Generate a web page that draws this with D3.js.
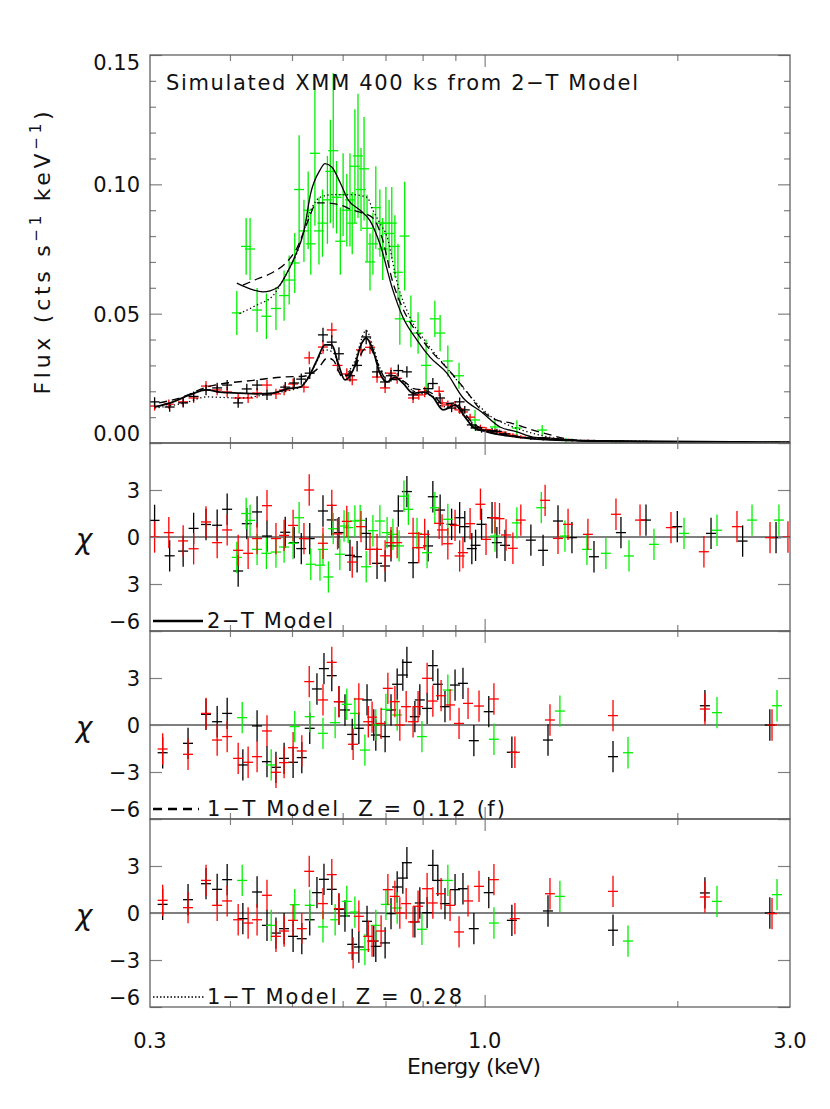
<!DOCTYPE html>
<meta charset="utf-8">
<title>Simulated XMM 400 ks from 2-T Model</title>
<style>
  body { margin: 0; background: #fff; }
  text { font-family: "DejaVu Sans", sans-serif; fill: #111; }
</style>
<body>
<script src="https://d3js.org/d3.v7.min.js"></script>
<script>
// ---------- top panel data (flux, cts/s/keV) ----------
var topBlackE = [0.305,0.322,0.338,0.351,0.367,0.382,0.396,0.412,0.425,0.441,0.457,0.488,0.504,0.517,0.533,0.559,0.577,0.592,0.616,0.632,0.653,0.679,0.699,0.714,0.733,0.756,0.773,0.816,0.830,0.852,0.888,0.914,0.931,0.955,0.968,0.989,1.027,1.045,1.076,1.181,1.234,1.302,1.369,1.482,1.633,1.787,2.0,2.258,2.53,2.853];
var topBlackF = [0.0159,0.0139,0.0155,0.018,0.0205,0.0213,0.0224,0.0155,0.0209,0.0224,0.0186,0.0216,0.0232,0.0247,0.027,0.0418,0.039,0.0345,0.026,0.03,0.041,0.0275,0.0236,0.026,0.028,0.0275,0.0186,0.021,0.023,0.0174,0.0135,0.0159,0.0128,0.007,0.0058,0.005,0.0048,0.0045,0.0035,0.0019,0.0016,0.0014,0.0011,0.0008,0.0006,0.0005,0.0004,0.0003,0.0003,0.0002];
var topBlackErr = [0.0018,0.0018,0.0018,0.0019,0.002,0.002,0.002,0.0019,0.002,0.002,0.002,0.002,0.0021,0.0022,0.0023,0.0028,0.0027,0.0025,0.0022,0.0024,0.0028,0.0022,0.0021,0.0022,0.0023,0.0022,0.0019,0.002,0.0021,0.0018,0.0016,0.0017,0.0015,0.0012,0.0011,0.001,0.001,0.001,0.0009,0.0007,0.0006,0.0006,0.0005,0.0005,0.0004,0.0004,0.0004,0.0004,0.0004,0.0004];

var topRedE = [0.305,0.321,0.338,0.351,0.367,0.382,0.396,0.412,0.427,0.441,0.457,0.472,0.486,0.502,0.522,0.532,0.559,0.577,0.589,0.609,0.621,0.641,0.662,0.679,0.699,0.714,0.730,0.773,0.789,0.806,0.849,0.858,0.876,0.899,0.914,0.925,0.949,0.985,1.005,1.038,1.055,1.08,1.107,1.139,1.243,1.302,1.350,1.450,1.604,1.749,1.955,2.201,2.479,2.792,2.978];
var topRedF = [0.0143,0.0150,0.0159,0.0174,0.022,0.0205,0.0197,0.0174,0.0174,0.0193,0.0224,0.019,0.0205,0.0228,0.0216,0.0329,0.0371,0.0437,0.030,0.0267,0.0244,0.036,0.037,0.0255,0.0213,0.027,0.025,0.0174,0.0186,0.0197,0.020,0.0155,0.0147,0.0145,0.0128,0.012,0.01,0.006,0.0052,0.0045,0.0042,0.0035,0.003,0.0023,0.0018,0.0014,0.0012,0.0009,0.0006,0.0005,0.0004,0.0003,0.0003,0.0002,0.0002];
var topRedErr = [0.0018,0.0018,0.0018,0.0019,0.002,0.002,0.002,0.0019,0.0019,0.002,0.002,0.002,0.002,0.0021,0.0021,0.0025,0.0026,0.0028,0.0023,0.0022,0.0021,0.0026,0.0026,0.0022,0.002,0.0022,0.0021,0.0019,0.0019,0.002,0.0019,0.0017,0.0017,0.0017,0.0016,0.0015,0.0013,0.0011,0.001,0.001,0.001,0.0009,0.0008,0.0007,0.0006,0.0006,0.0005,0.0005,0.0004,0.0004,0.0004,0.0004,0.0004,0.0004,0.0004];

var topGreenE = [0.410,0.424,0.430,0.441,0.456,0.472,0.486,0.495,0.505,0.513,0.522,0.530,0.535,0.543,0.551,0.558,0.568,0.574,0.580,0.587,0.595,0.601,0.609,0.616,0.621,0.627,0.634,0.641,0.648,0.655,0.662,0.669,0.676,0.686,0.693,0.701,0.709,0.716,0.724,0.732,0.737,0.750,0.767,0.787,0.810,0.836,0.852,0.876,0.912,0.966,1.038,1.123,1.23,1.34,1.6,2.0,2.4,2.85];
var topGreenF = [0.0503,0.076,0.075,0.0514,0.049,0.052,0.057,0.063,0.0696,0.098,0.082,0.090,0.077,0.112,0.082,0.085,0.094,0.105,0.113,0.095,0.078,0.096,0.090,0.094,0.085,0.107,0.111,0.098,0.106,0.083,0.070,0.077,0.091,0.085,0.075,0.085,0.081,0.085,0.076,0.066,0.048,0.080,0.047,0.0425,0.030,0.048,0.0425,0.0317,0.026,0.0089,0.0062,0.0058,0.005,0.001,0.0004,0.0003,0.0003,0.0003];
var topGreenErr = [0.0085,0.011,0.012,0.0085,0.0088,0.0083,0.0097,0.0095,0.0116,0.021,0.012,0.015,0.012,0.028,0.013,0.013,0.017,0.02,0.03,0.014,0.013,0.016,0.014,0.018,0.012,0.022,0.024,0.016,0.02,0.013,0.011,0.012,0.016,0.013,0.012,0.014,0.013,0.014,0.012,0.011,0.01,0.021,0.01,0.008,0.01,0.007,0.007,0.006,0.005,0.004,0.003,0.003,0.002,0.001,0.0005,0.0005,0.0005,0.0005];

// ---------- model curves (top panel) ----------
var modGreenSolidE = [0.410,0.430,0.4505,0.474,0.491,0.505,0.522,0.535,0.553,0.563,0.577,0.595,0.612,0.639,0.662,0.686,0.719,0.745,0.784,0.8215,0.873,0.925,0.989,1.057,1.123,1.19,1.265,1.425,1.813,3.0];
var modGreenSolidF = [0.0618,0.0596,0.0584,0.060,0.0657,0.072,0.082,0.0967,0.1055,0.108,0.1067,0.1005,0.094,0.090,0.086,0.077,0.059,0.0487,0.0398,0.0332,0.027,0.0175,0.012,0.0062,0.0043,0.0023,0.0019,0.0008,0.0004,0.0002];
var modGreenDashE = [0.419,0.441,0.467,0.491,0.509,0.528,0.547,0.568,0.595,0.623,0.643,0.669,0.690,0.719,0.745,0.787,0.822,0.873,0.93,0.985,1.04,1.10,1.19,1.25,1.4,1.8,3.0];
var modGreenDashF = [0.061,0.0634,0.066,0.070,0.0754,0.085,0.0928,0.0928,0.092,0.090,0.089,0.087,0.080,0.062,0.052,0.042,0.036,0.029,0.021,0.013,0.009,0.0077,0.005,0.0035,0.001,0.0005,0.0002];
var modGreenDotE = [0.414,0.441,0.467,0.491,0.509,0.535,0.553,0.579,0.623,0.655,0.669,0.686,0.704,0.73,0.764,0.81,0.88,0.95,1.02,1.1,1.2,1.4,3.0];
var modGreenDotF = [0.050,0.0534,0.057,0.0657,0.0735,0.090,0.095,0.096,0.096,0.095,0.090,0.085,0.0797,0.062,0.0487,0.039,0.028,0.018,0.0105,0.0065,0.0035,0.001,0.0002];

var modLowSolidE = [0.305,0.326,0.346,0.368,0.386,0.415,0.441,0.467,0.491,0.515,0.530,0.547,0.563,0.577,0.590,0.605,0.623,0.643,0.653,0.669,0.686,0.704,0.724,0.745,0.773,0.801,0.830,0.861,0.899,0.932,0.959,1.009,1.123,1.265,1.514,3.0];
var modLowSolidF = [0.0139,0.0159,0.0186,0.0205,0.0197,0.0193,0.019,0.0193,0.0209,0.0216,0.0251,0.032,0.0379,0.0379,0.031,0.0244,0.0282,0.0387,0.0406,0.036,0.027,0.0236,0.0255,0.0232,0.0193,0.0197,0.0178,0.0128,0.0147,0.01,0.0062,0.0043,0.0023,0.0012,0.0008,0.0002];
var modLowDashE = [0.31,0.335,0.368,0.441,0.484,0.522,0.55,0.568,0.58,0.60,0.625,0.65,0.66,0.68,0.70,0.725,0.745,0.775,0.80,0.83,0.86,0.90,0.93,0.96,1.01,1.12,1.27,1.5,3.0];
var modLowDashF = [0.0155,0.0175,0.0216,0.0244,0.0255,0.0258,0.029,0.0329,0.032,0.0255,0.029,0.0365,0.037,0.031,0.025,0.0245,0.024,0.021,0.0205,0.019,0.015,0.0155,0.0115,0.0075,0.005,0.0026,0.0014,0.0008,0.0002];
var modLowDotE = [0.305,0.34,0.368,0.415,0.467,0.515,0.54,0.563,0.58,0.60,0.625,0.653,0.67,0.69,0.72,0.745,0.775,0.83,0.86,0.90,0.93,0.96,1.01,1.12,1.27,1.5,3.0];
var modLowDotF = [0.0135,0.0155,0.0178,0.0174,0.0193,0.0216,0.029,0.036,0.035,0.026,0.031,0.0435,0.037,0.028,0.026,0.024,0.02,0.018,0.014,0.0145,0.0105,0.0068,0.0045,0.0024,0.0013,0.0008,0.0002];

// ---------- residuals, 2-T model (same bins as top panel) ----------
var res2BlackChi = [1.06,-1.2,-0.9,0.55,0.8,0.75,1.77,-2.17,0.85,1.6,0.06,0.3,-0.36,-0.74,-0.1,1.66,1.09,0.28,-1.17,-1.26,0.23,-1.68,-1.85,-0.57,1.66,2.9,-1.64,-0.57,2.57,1.72,0.81,1.23,0.66,-0.74,-0.53,0.81,1.23,-0.36,-0.53,-0.2,-0.85,1.02,-0.04,-1.26,0.28,1.08,0.66,0.23,-0.26,-0.04];
var res2RedChi = [0,0.28,-0.25,-0.75,0.96,-0.36,0.45,-0.85,-1.04,-0.1,2.0,-0.1,0.1,0.74,-0.1,3.0,-0.4,2.02,0.2,1.0,-1.6,0.66,-0.79,-0.79,-1.2,-0.36,-0.36,0.23,-0.68,0.17,0.87,0.45,-0.43,0.74,-1.21,-1.0,0.85,2.09,-0.15,1.23,1.17,0.13,-0.72,1.08,2.34,-0.09,0.81,0.17,1.45,1.08,0.6,-0.94,0.66,-0.04,0];
var res2GreenE = [0.410,0.424,0.430,0.441,0.456,0.472,0.486,0.502,0.513,0.535,0.553,0.559,0.570,0.580,0.594,0.603,0.612,0.627,0.639,0.653,0.669,0.686,0.704,0.719,0.735,0.748,0.760,0.784,0.813,0.836,0.876,1.038,1.123,1.226,1.335,1.445,1.547,1.681,1.839,2.049,2.307,2.617,2.883];
var res2GreenChi = [-1.3,1.5,1.06,-0.79,-1.04,-0.96,-0.64,-0.4,1.23,-1.74,-1.8,-0.79,-2.55,0.53,-1.1,0.7,0.6,1.02,1.06,-1.9,0.4,1.02,0.28,0.17,-0.57,2.6,1.77,0.23,-1.0,1.87,1.13,0.06,0.9,1.87,0.06,-0.79,-1.04,-1.21,-0.47,0.23,0.43,1.08,1.08];

// ---------- residuals, 1-T models (regrouped bins) ----------
var resBlackE = [0.314,0.344,0.367,0.382,0.396,0.419,0.441,0.457,0.472,0.486,0.502,0.518,0.533,0.547,0.561,0.577,0.592,0.605,0.621,0.636,0.655,0.671,0.676,0.699,0.714,0.730,0.745,0.756,0.778,0.792,0.813,0.830,0.845,0.867,0.899,0.925,0.962,1.015,1.103,1.256,1.587,2.209,2.79];
var res3BlackChi = [-1.77,-1.17,0.68,0.21,0.74,-2.55,-0.06,-2.34,-2.7,-2.13,-2.38,-2.08,-0.21,2.3,3.6,3.15,1.49,0.96,-0.6,-0.21,1.6,0.0,-0.64,-0.74,0.96,2.6,3.19,4.0,0.53,1.6,1.06,3.79,2.6,1.17,2.55,2.66,-1.0,0.85,-1.74,-0.96,-2.02,1.23,0];
var res4BlackChi = [0.55,0.85,1.87,1.51,2.13,-0.36,1.34,-0.79,-1.28,-1.0,-1.49,-1.64,-0.43,1.3,2.15,1.51,0.23,-0.19,-2.0,-2.17,-0.53,-1.79,-2.13,-1.91,-0.04,1.66,2.23,3.21,-0.57,0.64,0.02,3.04,2.08,0.6,1.49,1.55,-1.0,1.3,-0.47,0.13,-1.1,1.28,0];
var resRedE = [0.314,0.344,0.367,0.382,0.396,0.412,0.427,0.441,0.457,0.472,0.486,0.502,0.518,0.532,0.559,0.577,0.592,0.623,0.636,0.658,0.667,0.689,0.706,0.724,0.737,0.754,0.773,0.787,0.813,0.830,0.855,0.883,0.912,0.942,0.980,1.034,1.115,1.265,1.587,2.209,2.812];
var res3RedChi = [-1.53,-1.87,0.74,-0.96,-0.74,-2.13,-2.38,-2.02,-0.38,-3.02,-2.4,-1.45,-1.66,2.77,1.6,4.0,1.49,-1.23,1.66,0.21,0.5,0.1,2.34,1.49,0.0,1.17,0.21,1.17,2.98,1.53,1.87,1.28,0.1,1.38,1.21,1.66,-1.74,0.32,0.6,1.02,0];
var res4RedChi = [0.81,0.34,2.08,0.49,0.77,-0.43,-0.64,-0.43,1.13,-1.49,-1.15,-0.47,-1.0,2.66,0.6,2.45,0.28,-2.55,-0.21,-1.49,-1.79,-1.15,1.49,1.06,0.0,0.6,-0.57,0.43,1.55,0.64,1.23,0.49,-1.21,0.77,1.7,2.13,-0.36,1.23,1.38,1.02,-0.04];
var resGreenE = [0.418,0.464,0.505,0.533,0.559,0.584,0.609,0.627,0.650,0.676,0.701,0.730,0.798,0.876,1.034,1.311,1.675,2.307,2.863];
var res3GreenChi = [0.47,-2.55,-0.1,0.53,-0.53,0.15,1.32,0.74,-1.6,0.0,1.0,0.64,-0.74,2.23,-0.91,0.89,-1.77,0.79,1.23];
var res4GreenChi = [2.08,-0.79,0.53,0.49,-0.89,-0.43,0.74,0.06,-2.34,-0.79,0.55,0.32,-1.04,2.08,-0.64,1.06,-1.79,0.74,1.17];

// ---------- labels ----------
var titleText = "Simulated XMM 400 ks from 2\u2212T Model";
var fluxTicks = [0, 0.05, 0.10, 0.15];
var fluxLabels = ["0.00", "0.05", "0.10", "0.15"];
var chiTicks = [-6, -3, 0, 3];
var chiLabels = [["\u22126", "3", "0", "3"], ["\u22126", "\u22123", "0", "3"], ["\u22126", "\u22123", "0", "3"]];
var legendTexts = ["2\u2212T Model", "1\u2212T Model  Z = 0.12 (f)", "1\u2212T Model  Z = 0.28"];
var energyTicks = [0.3, 1.0, 3.0];
var energyLabels = ["0.3", "1.0", "3.0"];

// ---------- layout ----------
var W = 830, H = 1109;
var svg = d3.select("body").append("svg").attr("width", W).attr("height", H);
svg.append("rect").attr("width", W).attr("height", H).attr("fill", "#fff");

var x = d3.scaleLog().domain([0.3, 3.0]).range([150, 790]);
var yTop = d3.scaleLinear().domain([0, 0.15]).range([443, 55]);
var panels = [443, 631, 819].map(function(t) {
  return { top: t, bottom: t + 188, y: d3.scaleLinear().domain([-6, 6]).range([t + 188, t]) };
});
var FS = 21;
var HALF_BIN = 0.018;   // half bin width, fraction of energy
var GREEN = "#00f000";

function clip(id, top, bottom) {
  svg.append("clipPath").attr("id", id).append("rect")
    .attr("x", 150).attr("y", top).attr("width", 640).attr("height", bottom - top);
}

function crosses(g, es, vs, errs, y, color) {
  var pts = es.map(function(e, i) {
    return { e: e, v: vs[i], err: Array.isArray(errs) ? errs[i] : errs };
  });
  var c = g.append("g").attr("stroke", color).attr("stroke-width", 1.3).attr("fill", "none");
  c.selectAll("line.v").data(pts).join("line").attr("class", "v")
    .attr("x1", function(d) { return x(d.e); }).attr("x2", function(d) { return x(d.e); })
    .attr("y1", function(d) { return y(d.v - d.err); }).attr("y2", function(d) { return y(d.v + d.err); });
  c.selectAll("line.h").data(pts).join("line").attr("class", "h")
    .attr("x1", function(d) { return x(d.e * (1 - HALF_BIN)); }).attr("x2", function(d) { return x(d.e * (1 + HALF_BIN)); })
    .attr("y1", function(d) { return y(d.v); }).attr("y2", function(d) { return y(d.v); });
}

function frame(top, bottom, y, yMajor, yMinor) {
  var g = svg.append("g");
  var tick = function(axis) { return axis.tickFormat(""); };
  var bx = [0.4, 0.5, 0.6, 0.7, 0.8, 0.9, 2.0];
  // x ticks on top and bottom edges (inside)
  g.append("g").attr("transform", "translate(0," + bottom + ")").call(tick(d3.axisTop(x).tickValues(bx).tickSize(6)));
  g.append("g").attr("transform", "translate(0," + bottom + ")").call(tick(d3.axisTop(x).tickValues([1.0]).tickSize(12)));
  g.append("g").attr("transform", "translate(0," + top + ")").call(tick(d3.axisBottom(x).tickValues(bx).tickSize(6)));
  g.append("g").attr("transform", "translate(0," + top + ")").call(tick(d3.axisBottom(x).tickValues([1.0]).tickSize(12)));
  // y ticks on left and right edges (inside)
  g.append("g").attr("transform", "translate(150,0)").call(tick(d3.axisRight(y).tickValues(yMajor).tickSize(12)));
  g.append("g").attr("transform", "translate(790,0)").call(tick(d3.axisLeft(y).tickValues(yMajor).tickSize(12)));
  if (yMinor) {
    g.append("g").attr("transform", "translate(150,0)").call(tick(d3.axisRight(y).tickValues(yMinor).tickSize(6)));
    g.append("g").attr("transform", "translate(790,0)").call(tick(d3.axisLeft(y).tickValues(yMinor).tickSize(6)));
  }
  g.selectAll(".domain").remove();
  g.selectAll(".tick line").attr("stroke", "#808080").attr("stroke-width", 1.2);
  svg.append("rect").attr("x", 150).attr("y", top).attr("width", 640).attr("height", bottom - top)
    .attr("fill", "none").attr("stroke", "#555").attr("stroke-width", 1.2);
}

function yLabels(vals, texts, y, top, bottom) {
  svg.append("g").selectAll("text").data(vals).join("text")
    .attr("x", 140).attr("text-anchor", "end").attr("font-size", FS)
    .attr("dominant-baseline", "central")
    .attr("y", function(d) {
      var p = y(d);
      if (Math.abs(p - top) < 1) return p + 8;
      if (Math.abs(p - bottom) < 1) return p - 9;
      return p + 1;
    })
    .text(function(d, i) { return texts[i]; });
}

// ---------- top panel ----------
clip("clipTop", 55, 443);
var gTop = svg.append("g").attr("clip-path", "url(#clipTop)");
crosses(gTop, topGreenE, topGreenF, topGreenErr, yTop, GREEN);
crosses(gTop, topRedE, topRedF, topRedErr, yTop, "#ff0000");
crosses(gTop, topBlackE, topBlackF, topBlackErr, yTop, "#000");

var line = d3.line().x(function(d) { return x(d[0]); }).y(function(d) { return yTop(d[1]); }).curve(d3.curveMonotoneX);
function model(es, fs, dash, w) {
  gTop.append("path").datum(es.map(function(e, i) { return [e, fs[i]]; }))
    .attr("d", line).attr("fill", "none").attr("stroke", "#000")
    .attr("stroke-width", w).attr("stroke-dasharray", dash);
}
model(modGreenDotE, modGreenDotF, "1.3,2.6", 1.3);
model(modGreenDashE, modGreenDashF, "8,5", 1.3);
model(modGreenSolidE, modGreenSolidF, null, 1.3);
model(modLowDotE, modLowDotF, "1.3,2.6", 1.3);
model(modLowDashE, modLowDashF, "8,5", 1.4);
model(modLowSolidE, modLowSolidF, null, 1.8);

frame(55, 443, yTop, fluxTicks, d3.range(1, 15).filter(function(i) { return i % 5 !== 0; }).map(function(i) { return i / 100; }));
yLabels(fluxTicks, fluxLabels, yTop, 55, 443);

svg.append("text").attr("x", 166).attr("y", 90).attr("font-size", FS)
  .attr("textLength", 472).attr("lengthAdjust", "spacing").text(titleText);

var yt = svg.append("text").attr("transform", "translate(50,253) rotate(-90)")
  .attr("text-anchor", "middle").attr("font-size", 22)
  .attr("textLength", 283).attr("lengthAdjust", "spacing");
yt.append("tspan").text("Flux (cts s");
yt.append("tspan").attr("font-size", 15).attr("dy", -9).text("\u22121");
yt.append("tspan").attr("dy", 9).text(" keV");
yt.append("tspan").attr("font-size", 15).attr("dy", -9).text("\u22121");
yt.append("tspan").attr("dy", 9).text(")");

// ---------- residual panels ----------
var resSets = [
  [[topBlackE, res2BlackChi, "#000"], [topRedE, res2RedChi, "#ff0000"], [res2GreenE, res2GreenChi, GREEN]],
  [[resBlackE, res3BlackChi, "#000"], [resRedE, res3RedChi, "#ff0000"], [resGreenE, res3GreenChi, GREEN]],
  [[resBlackE, res4BlackChi, "#000"], [resRedE, res4RedChi, "#ff0000"], [resGreenE, res4GreenChi, GREEN]]
];
var legendDash = [null, "9,6", "1.5,2"];
var legendWidth = [2.6, 2.6, 1.6];
var legendEnd = [203, 199, 205];
var legendLen = [126, 298, 255];

panels.forEach(function(p, k) {
  clip("clipRes" + k, p.top, p.bottom);
  var g = svg.append("g").attr("clip-path", "url(#clipRes" + k + ")");
  g.append("line").attr("x1", 150).attr("x2", 790).attr("y1", p.y(0)).attr("y2", p.y(0))
    .attr("stroke", "#000").attr("stroke-width", 1.2);
  crosses(g, resSets[k][0][0], resSets[k][0][1], 1, p.y, resSets[k][0][2]);
  crosses(g, resSets[k][2][0], resSets[k][2][1], 1, p.y, resSets[k][2][2]);
  crosses(g, resSets[k][1][0], resSets[k][1][1], 1, p.y, resSets[k][1][2]);

  frame(p.top, p.bottom, p.y, [-6, -3, 0, 3, 6], null);
  yLabels(chiTicks, chiLabels[k], p.y, p.top, p.bottom);

  svg.append("text").attr("x", 84).attr("y", p.y(0) + 2).attr("text-anchor", "middle")
    .attr("dominant-baseline", "central").attr("font-size", 28).attr("font-style", "italic").text("\u03c7");

  var ly = p.bottom - 10;
  svg.append("line").attr("x1", 153).attr("x2", legendEnd[k]).attr("y1", ly).attr("y2", ly)
    .attr("stroke", "#000").attr("stroke-width", legendWidth[k]).attr("stroke-dasharray", legendDash[k]);
  svg.append("text").attr("x", 207).attr("y", p.bottom - 3).attr("font-size", FS)
    .style("white-space", "pre").attr("textLength", legendLen[k]).attr("lengthAdjust", "spacing")
    .text(legendTexts[k]);
});

// ---------- x axis labels ----------
svg.append("g").selectAll("text").data(energyTicks).join("text")
  .attr("x", function(d) { return x(d); }).attr("y", 1048).attr("text-anchor", "middle")
  .attr("font-size", FS).text(function(d, i) { return energyLabels[i]; });
svg.append("text").attr("x", 474).attr("y", 1074).attr("text-anchor", "middle")
  .attr("font-size", 22).attr("textLength", 134).attr("lengthAdjust", "spacing").text("Energy (keV)");
</script>
</body>
